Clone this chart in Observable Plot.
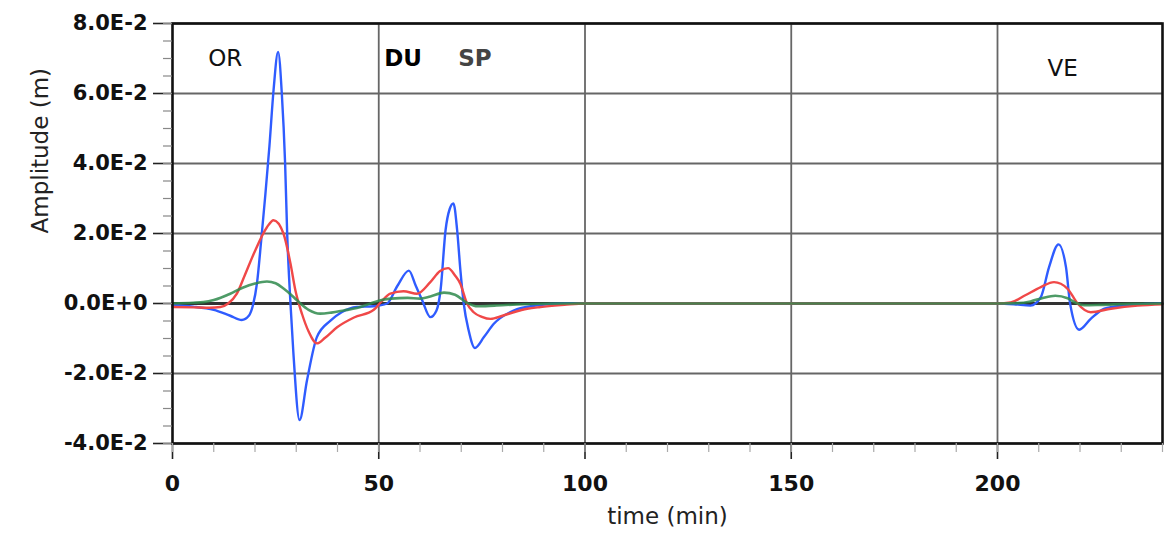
<!DOCTYPE html>
<html>
<head>
<meta charset="utf-8">
<script src="https://cdn.jsdelivr.net/npm/d3@7"></script>
<script src="https://cdn.jsdelivr.net/npm/@observablehq/plot@0.6"></script>
<style>
  html, body { margin: 0; padding: 0; background: #fff; }
  #chart { width: 1176px; height: 538px; }
</style>
</head>
<body>
<div id="chart"></div>
<script>
// ---- data ----
const blueTime = [0, 5, 10, 14, 16.8, 18.5, 19.5, 20.5, 21.5, 22.5, 23.5, 24.5, 25.6, 26.5, 27.3, 27.8, 28.6, 29.3, 30.8, 32.6, 35, 38.3, 41, 44.7, 48.7, 52, 54.5, 57.3, 59, 60.5, 62.5, 64, 65, 66.2, 67.2, 68.1, 69, 69.8, 70.6, 71.8, 73.3, 75.5, 77.9, 82.7, 88, 95, 120, 160, 200, 204, 208, 210.5, 212.5, 214.8, 216.6, 217.6, 219.8, 222.6, 225.9, 230.6, 235, 240];
const blueAmp = [-0.0005, -0.0009, -0.0018, -0.0035, -0.0047, -0.0035, -0.0005, 0.006, 0.018, 0.031, 0.045, 0.061, 0.0719, 0.060, 0.040, 0.020, 0.000, -0.014, -0.0333, -0.022, -0.0096, -0.0049, -0.0025, -0.001, -0.0008, 0.000, 0.005, 0.0094, 0.005, 0.001, -0.0039, -0.002, 0.004, 0.021, 0.027, 0.0286, 0.021, 0.0094, 0.000, -0.0077, -0.0127, -0.0096, -0.0058, -0.002, -0.0006, 0, 0, 0, 0, -0.0002, -0.0006, 0.0018, 0.0104, 0.0169, 0.0104, 0.000, -0.0075, -0.0044, -0.0015, -0.0006, -0.0002, 0];

const redTime = [0, 5, 9, 11.6, 13.5, 15.6, 17.5, 19.7, 22.9, 24.5, 26.9, 28.6, 29.8, 31.4, 33, 35, 37, 39.9, 44, 48.8, 50.6, 52.8, 56, 59.3, 62.5, 64.8, 66.8, 68.5, 69.8, 71.4, 73, 75, 77.1, 80, 82.7, 86, 89.2, 95, 100, 200, 203.2, 206.5, 210.5, 213.7, 217, 219.4, 222.6, 227.5, 234, 240];
const redAmp = [-0.001, -0.0011, -0.0012, -0.001, 0, 0.0028, 0.008, 0.0142, 0.0218, 0.0238, 0.020, 0.0114, 0.0037, -0.003, -0.008, -0.0114, -0.0098, -0.0068, -0.004, -0.0018, 0.0005, 0.0028, 0.0035, 0.0028, 0.0061, 0.0092, 0.0101, 0.008, 0.0056, 0, -0.0025, -0.0038, -0.0044, -0.0035, -0.0025, -0.0015, -0.001, -0.0004, 0, 0, 0.0003, 0.0022, 0.0047, 0.0061, 0.0042, 0, -0.0025, -0.0015, -0.0006, -0.0002];

const greenTime = [0, 5, 7.5, 10, 14, 17, 20, 22.9, 25, 27, 29.4, 31, 33, 35.8, 38.5, 41.5, 44.7, 48, 50, 53, 57, 60, 62.5, 65.8, 68.5, 71.4, 74, 78, 85, 95, 200, 205, 208, 211, 214, 217, 219, 221, 225, 232, 240];
const greenAmp = [0, 0.0002, 0.0004, 0.001, 0.0028, 0.0045, 0.0057, 0.0063, 0.0058, 0.0042, 0.0018, 0, -0.0018, -0.0029, -0.0026, -0.002, -0.0013, 0, 0.0008, 0.0014, 0.0016, 0.0014, 0.002, 0.0031, 0.0025, 0.0002, -0.0008, -0.0006, -0.0002, 0, 0, 0.0001, 0.0006, 0.0016, 0.0022, 0.0015, 0.0002, -0.0005, -0.0004, -0.0001, 0];

const labelNames = ["OR", "DU", "SP", "VE"];
const labelTime = [12.8, 55.9, 73.3, 215.8];
const labelAmp = [0.070, 0.070, 0.070, 0.0672];

const xMajorTicks = [0, 50, 100, 150, 200];
const xMinorTicks = d3.range(0, 241, 10);
const yMajorTicks = [-0.04, -0.02, 0, 0.02, 0.04, 0.06, 0.08];
const yMinorTicks = d3.range(-40, 81, 5).map(v => v / 1000);

// ---- formatting ----
function fmtE(d) {
  if (Math.abs(d) < 1e-12) return "0.0E+0";
  const e = Math.floor(Math.log10(Math.abs(d)) + 1e-9);
  const m = d / Math.pow(10, e);
  return m.toFixed(1) + "E" + (e < 0 ? "-" : "+") + Math.abs(e);
}

const FONT = "DejaVu Sans";
const idx = a => d3.range(a.length);

const chart = Plot.plot({
  width: 1176,
  height: 538,
  marginLeft: 172,
  marginRight: 14,
  marginTop: 23,
  marginBottom: 95,
  style: { fontFamily: FONT, background: "#fff", color: "#111" },
  x: { domain: [0, 240] },
  y: { domain: [-0.04, 0.08] },
  marks: [
    Plot.gridX(xMajorTicks.filter(t => t > 0), { stroke: "#666", strokeWidth: 1.8, strokeOpacity: 1 }),
    Plot.gridY(yMajorTicks, { stroke: "#666", strokeWidth: 1.8, strokeOpacity: 1 }),
    Plot.ruleY([0], { stroke: "#333", strokeWidth: 2.8 }),
    Plot.line(idx(blueTime), { x: i => blueTime[i], y: i => blueAmp[i], stroke: "#2f5cff", strokeWidth: 2.4, curve: "monotone-x" }),
    Plot.line(idx(redTime), { x: i => redTime[i], y: i => redAmp[i], stroke: "#f04848", strokeWidth: 2.4, curve: "monotone-x" }),
    Plot.line(idx(greenTime), { x: i => greenTime[i], y: i => greenAmp[i], stroke: "#2f8a4c", strokeWidth: 2.6, strokeOpacity: 0.85, curve: "monotone-x" }),
    Plot.frame({ stroke: "#111", strokeWidth: 2.6 }),
    // y axis
    Plot.axisY(yMajorTicks, { tickSize: 19, tickPadding: 6, tickFormat: fmtE, fontSize: 21, fontWeight: "bold", stroke: "#222", strokeWidth: 1.6, label: null }),
    Plot.axisY(yMinorTicks, { tickSize: 9, tickFormat: () => "", stroke: "#888", strokeWidth: 1.2, label: null }),
    // x axis
    Plot.axisX(xMajorTicks, { tickSize: 16, tickPadding: 16, tickFormat: d => String(d), fontSize: 22, fontWeight: "bold", stroke: "#222", strokeWidth: 1.6, label: null }),
    Plot.axisX(xMinorTicks, { tickSize: 9, tickFormat: () => "", stroke: "#aaa", strokeWidth: 1.2, label: null }),
    // axis titles
    Plot.text(["time (min)"], { frameAnchor: "bottom", dy: 80, fontSize: 23, fill: "#222" }),
    Plot.text(["Amplitude (m)"], { frameAnchor: "left", dx: -132, rotate: -90, fontSize: 23, fill: "#222" }),
    // phase annotations
    Plot.text(idx(labelNames).filter(i => i !== 1 && i !== 2), { x: i => labelTime[i], y: i => labelAmp[i], text: i => labelNames[i], fontSize: 23, fill: "#111" }),
    Plot.text([1], { x: i => labelTime[i], y: i => labelAmp[i], text: i => labelNames[i], fontSize: 23, fontWeight: "bold", fill: "#000" }),
    Plot.text([2], { x: i => labelTime[i], y: i => labelAmp[i], text: i => labelNames[i], fontSize: 23, fontWeight: "bold", fill: "#444" })
  ]
});

document.getElementById("chart").appendChild(chart);
</script>
</body>
</html>
